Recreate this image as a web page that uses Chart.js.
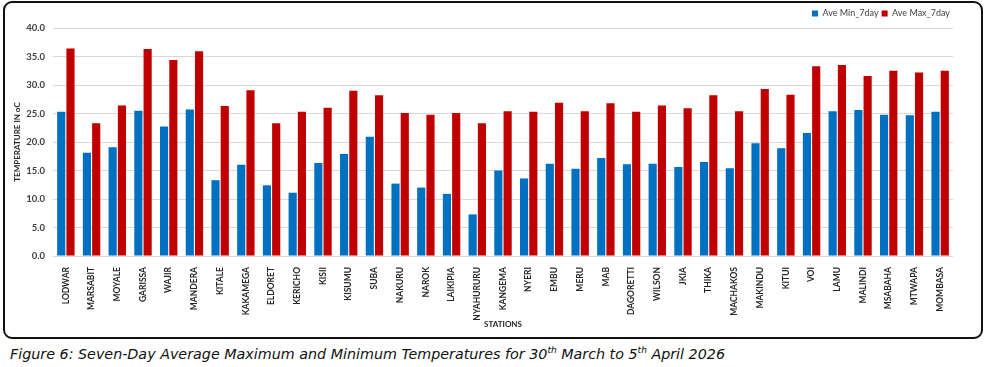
<!DOCTYPE html>
<html>
<head>
<meta charset="utf-8">
<script src="https://cdn.jsdelivr.net/npm/chart.js@4.4.0/dist/chart.umd.min.js"></script>
<style>
  body { margin: 0; background: #fff; width: 987px; height: 367px; position: relative; overflow: hidden; }
  #frame { position: absolute; left: 3px; top: 1px; width: 976px; height: 334px; border: 2px solid #111; border-radius: 9px; }
  #wrap { position: absolute; left: 0; top: 0; width: 976px; height: 334px; }
  #caption { position: absolute; left: 10px; top: 345px; font-family: "DejaVu Sans", sans-serif; font-style: italic; font-size: 14.3px; color: #111; white-space: nowrap; }
  #caption sup { font-size: 9px; }
</style>
</head>
<body>
<div id="frame"><div id="wrap"><canvas id="tempChart"></canvas></div></div>
<div id="caption">Figure 6: Seven-Day Average Maximum and Minimum Temperatures for 30<sup>th</sup> March to 5<sup>th</sup> April 2026</div>
<script>
// stations and 7-day averages
var stations = ['LODWAR','MARSABIT','MOYALE','GARISSA','WAJIR','MANDERA','KITALE','KAKAMEGA','ELDORET','KERICHO',
  'KISII','KISUMU','SUBA','NAKURU','NAROK','LAIKIPIA','NYAHURURU','KANGEMA','NYERI','EMBU',
  'MERU','MAB','DAGORETTI','WILSON','JKIA','THIKA','MACHAKOS','MAKINDU','KITUI','VOI',
  'LAMU','MALINDI','MSABAHA','MTWAPA','MOMBASA'];
var aveMin = [25.3,18.1,19.1,25.5,22.7,25.7,13.3,16.0,12.4,11.1,
  16.3,17.9,20.9,12.7,12.0,10.9,7.3,15.0,13.6,16.2,
  15.3,17.2,16.1,16.2,15.6,16.5,15.4,19.8,18.9,21.6,
  25.4,25.6,24.8,24.7,25.3];
var aveMax = [36.4,23.3,26.4,36.3,34.4,35.9,26.3,29.1,23.3,25.3,
  26.0,29.0,28.2,25.1,24.8,25.1,23.3,25.4,25.3,26.9,
  25.4,26.8,25.3,26.4,25.9,28.2,25.4,29.3,28.3,33.3,
  33.5,31.6,32.5,32.2,32.5];
var yTicks = { min: 0, max: 40, step: 5 };

var ctx = document.getElementById('tempChart').getContext('2d');
var tempChart = new Chart(ctx, {
  type: 'bar',
  data: {
    labels: stations,
    datasets: [
      { label: 'Ave Min_7day', data: aveMin, backgroundColor: '#0070C0' },
      { label: 'Ave Max_7day', data: aveMax, backgroundColor: '#C00000' }
    ]
  },
  options: {
    responsive: true,
    maintainAspectRatio: false,
    animation: false,
    layout: { padding: { left: 0, right: 28, top: 3, bottom: 0 } },
    datasets: { bar: { categoryPercentage: 0.72, barPercentage: 0.88 } },
    plugins: {
      legend: {
        position: 'top',
        align: 'end',
        labels: {
          boxWidth: 6, boxHeight: 6, padding: 3,
          color: '#404040',
          font: { family: 'Lato', size: 9 }
        }
      },
      tooltip: { enabled: false }
    },
    scales: {
      x: {
        grid: { display: false },
        border: { display: false },
        ticks: {
          minRotation: 90, maxRotation: 90, autoSkip: false,
          color: '#262626',
          font: { family: 'Lato', size: 8.5, weight: 'bold' }
        },
        title: {
          display: true, text: 'STATIONS', color: '#262626',
          font: { family: 'Lato', size: 8, weight: 'bold' },
          padding: { top: 2, bottom: 8 }
        },
        afterFit: function (scale) { scale.height = 81; }
      },
      y: {
        min: yTicks.min, max: yTicks.max,
        grid: { color: '#d9d9d9', drawTicks: false },
        border: { display: false },
        ticks: {
          stepSize: yTicks.step, padding: 8,
          color: '#404040',
          font: { family: 'Lato', size: 9.5, weight: 'bold' },
          callback: function (v) { return v.toFixed(1); }
        },
        title: {
          display: true, text: 'TEMPERATURE IN oC', color: '#262626',
          font: { family: 'Lato', size: 8, weight: 'bold' },
          padding: { top: 8, bottom: 4 }
        },
        afterFit: function (scale) { scale.width = 48; }
      }
    }
  }
});
</script>
</body>
</html>
